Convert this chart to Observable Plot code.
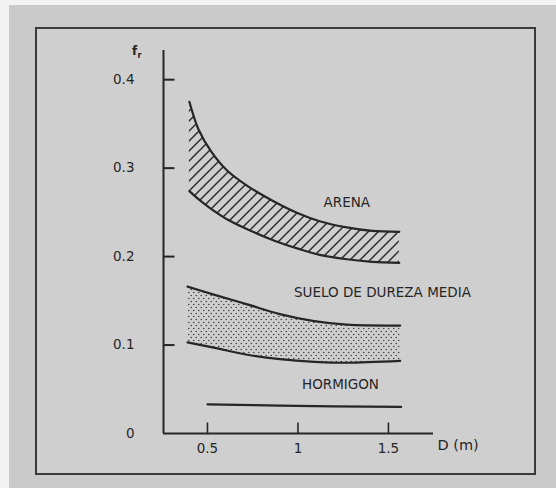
<!DOCTYPE html>
<html><head><meta charset="utf-8">
<script src="https://cdn.jsdelivr.net/npm/d3@7"></script>
<script src="https://cdn.jsdelivr.net/npm/@observablehq/plot@0.6"></script>
<style>
html,body{margin:0;padding:0;}
body{width:556px;height:488px;background:#cacaca;position:relative;overflow:hidden;font-family:"DejaVu Sans",sans-serif;}
#edgeTop{position:absolute;left:0;top:0;width:556px;height:5px;background:#f2f2f2;}
#edgeLeft{position:absolute;left:0;top:0;width:9px;height:488px;background:#f2f2f2;}
#frame{position:absolute;left:35px;top:27px;width:501px;height:448px;border:2px solid #3a3a3a;background:#cfcfcf;box-sizing:border-box;}
#chart{position:absolute;left:0;top:0;}
</style></head><body>
<div id="edgeTop"></div><div id="edgeLeft"></div><div id="frame"></div>
<div id="chart"></div>
<script>
// ---- data ----
const xDomain = [0.257, 1.749];
const yDomain = [0, 0.433];
const yTicks = [0, 0.1, 0.2, 0.3, 0.4];
const yTickLabels = ["0", "0.1", "0.2", "0.3", "0.4"];
const xTicks = [0.5, 1, 1.5];
const xTickLabels = ["0.5", "1", "1.5"];
const xLabel = "D (m)";
const yLabelMain = "f";
const yLabelSub = "r";

const arenaD  = [0.40, 0.45, 0.52, 0.61, 0.72, 0.87, 1.00, 1.12, 1.27, 1.41, 1.56];
const arenaHi = [0.375, 0.344, 0.319, 0.297, 0.280, 0.262, 0.249, 0.240, 0.233, 0.229, 0.228];
const arenaLo = [0.274, 0.265, 0.254, 0.242, 0.231, 0.218, 0.209, 0.202, 0.197, 0.194, 0.193];

const sueloD  = [0.39, 0.535, 0.72, 0.90, 1.09, 1.27, 1.565];
const sueloHi = [0.166, 0.157, 0.146, 0.135, 0.127, 0.123, 0.122];
const sueloLo = [0.103, 0.097, 0.089, 0.084, 0.081, 0.080, 0.082];

const hormigonD = [0.50, 0.90, 1.57];
const hormigonF = [0.033, 0.0315, 0.030];

const regionLabels = ["ARENA", "SUELO DE DUREZA MEDIA", "HORMIGON"];
const labelD = [1.27, 1.467, 1.235];
const labelF = [0.261, 0.159, 0.055];

// ---- build tables ----
const ink = "#262626";
const arena = arenaD.map((d, i) => ({D: d, hi: arenaHi[i], lo: arenaLo[i]}));
const suelo = sueloD.map((d, i) => ({D: d, hi: sueloHi[i], lo: sueloLo[i]}));
const hormigon = hormigonD.map((d, i) => ({D: d, f: hormigonF[i]}));
const labels = regionLabels.map((t, i) => ({t, D: labelD[i], f: labelF[i]}));

const tickRight = {draw(ctx) { ctx.moveTo(0, 0); ctx.lineTo(11, 0); }};
const tickUp = {draw(ctx) { ctx.moveTo(0, 0); ctx.lineTo(0, -11); }};
const crv = "catmull-rom";

const svg = Plot.plot({
  width: 556, height: 488,
  marginLeft: 163, marginRight: 123, marginTop: 50, marginBottom: 55,
  x: {domain: xDomain, axis: null},
  y: {domain: yDomain, axis: null},
  style: {background: "transparent", color: ink, fontFamily: "DejaVu Sans, sans-serif", fontSize: "13.5px"},
  marks: [
    Plot.areaY(arena, {x: "D", y1: "lo", y2: "hi", fill: "url(#hatch)", curve: crv}),
    Plot.areaY(suelo, {x: "D", y1: "lo", y2: "hi", fill: "url(#dots)", curve: crv}),
    Plot.line(arena, {x: "D", y: "hi", stroke: ink, strokeWidth: 2.2, curve: crv}),
    Plot.line(arena, {x: "D", y: "lo", stroke: ink, strokeWidth: 2.2, curve: crv}),
    Plot.line(suelo, {x: "D", y: "hi", stroke: ink, strokeWidth: 2.2, curve: crv}),
    Plot.line(suelo, {x: "D", y: "lo", stroke: ink, strokeWidth: 2.2, curve: crv}),
    Plot.line(hormigon, {x: "D", y: "f", stroke: ink, strokeWidth: 2.2, curve: crv}),
    Plot.ruleY([yDomain[0]], {stroke: ink, strokeWidth: 2}),
    Plot.ruleX([xDomain[0]], {stroke: ink, strokeWidth: 2}),
    Plot.dot(yTicks.filter(t => t > 0), {y: d => d, frameAnchor: "left", symbol: tickRight, stroke: ink, strokeWidth: 2, fill: "none"}),
    Plot.dot(xTicks, {x: d => d, frameAnchor: "bottom", symbol: tickUp, stroke: ink, strokeWidth: 1.6, fill: "none"}),
    Plot.text(yTicks, {y: d => d, frameAnchor: "left", dx: -29, textAnchor: "end", text: (d, i) => yTickLabels[i], fill: ink}),
    Plot.text(xTicks, {x: d => d, frameAnchor: "bottom", dy: 19, text: (d, i) => xTickLabels[i], fill: ink}),
    Plot.text([xLabel], {frameAnchor: "bottom-right", dx: 4, dy: 16, textAnchor: "start", text: d => d, fill: ink, fontSize: 14.5}),
    Plot.text([yLabelMain], {frameAnchor: "top-left", dx: -29, dy: -4, textAnchor: "middle", text: d => d, fill: ink, fontWeight: "bold", fontSize: 12}),
    Plot.text([yLabelSub], {frameAnchor: "top-left", dx: -24, dy: 2, textAnchor: "middle", text: d => d, fill: ink, fontWeight: "bold", fontSize: 8}),
    Plot.text(labels, {x: "D", y: "f", text: "t", fill: ink, fontSize: 13.5})
  ]
});

const ns = "http://www.w3.org/2000/svg";
const defs = document.createElementNS(ns, "defs");
defs.innerHTML =
  '<pattern id="hatch" patternUnits="userSpaceOnUse" width="10" height="10">' +
  '<path d="M-2,2 L2,-2 M0,10 L10,0 M8,12 L12,8" stroke="#2e2e2e" stroke-width="1.5" fill="none"/></pattern>' +
  '<pattern id="dots" patternUnits="userSpaceOnUse" width="5" height="6">' +
  '<circle cx="1.25" cy="1.5" r="0.8" fill="#444"/><circle cx="3.75" cy="4.5" r="0.8" fill="#444"/></pattern>';
svg.insertBefore(defs, svg.firstChild);
document.getElementById("chart").appendChild(svg);
</script>
</body></html>
